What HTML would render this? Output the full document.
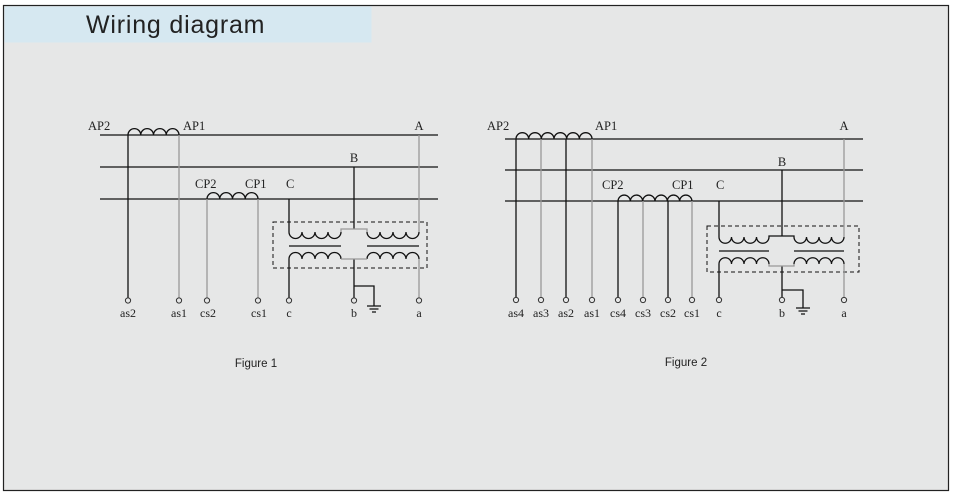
<!DOCTYPE html>
<html><head><meta charset="utf-8"><style>
html,body{margin:0;padding:0;background:#fff;}
body{width:953px;height:495px;overflow:hidden;position:relative;}
</style></head><body>
<svg width="953" height="495" viewBox="0 0 953 495" xmlns="http://www.w3.org/2000/svg" style="position:absolute;left:0;top:0">
<rect x="0" y="0" width="953" height="495" fill="#fff"/>
<rect x="3.5" y="5.5" width="945" height="485" fill="#e6e7e7" stroke="#222" stroke-width="1.2"/>
<rect x="4.5" y="6.5" width="367" height="36" fill="#d6e8f1"/>
<text x="86" y="33" font-family="Liberation Sans, sans-serif" font-size="25" fill="#222" letter-spacing="0.8">Wiring diagram</text>

<g fill="none" stroke-width="1.3">
<!-- Figure 1 -->
<g stroke="#111">
<line x1="100" y1="135" x2="438" y2="135"/>
<line x1="100" y1="167" x2="438" y2="167"/>
<line x1="100" y1="199" x2="438" y2="199"/>
<path d="M128 301V135a6.375 6.375 0 0 1 12.75 0a6.375 6.375 0 0 1 12.75 0a6.375 6.375 0 0 1 12.75 0a6.375 6.375 0 0 1 12.75 0"/>
<path d="M207 199a6.375 6.375 0 0 1 12.75 0a6.375 6.375 0 0 1 12.75 0a6.375 6.375 0 0 1 12.75 0a6.375 6.375 0 0 1 12.75 0"/>
<path d="M354 167V229"/>
<path d="M289 199V232a6.5 6.5 0 0 0 13 0a6.5 6.5 0 0 0 13 0a6.5 6.5 0 0 0 13 0a6.5 6.5 0 0 0 13 0"/>
<path d="M289 301V259a6.5 6.5 0 0 1 13 0a6.5 6.5 0 0 1 13 0a6.5 6.5 0 0 1 13 0a6.5 6.5 0 0 1 13 0"/>
<path d="M419 232a6.5 6.5 0 0 1 -13 0a6.5 6.5 0 0 1 -13 0a6.5 6.5 0 0 1 -13 0a6.5 6.5 0 0 1 -13 0"/>
<path d="M419 259a6.5 6.5 0 0 0 -13 0a6.5 6.5 0 0 0 -13 0a6.5 6.5 0 0 0 -13 0a6.5 6.5 0 0 0 -13 0"/>
<line x1="289" y1="246" x2="341" y2="246"/><line x1="367" y1="246" x2="419" y2="246"/>
<path d="M354 259V298M354 286H374V306M367 306H381M369.5 309H378.5M372 312H376"/>
<path d="M273 222H427V268H273Z" stroke-dasharray="4 3" stroke-width="1"/>
</g>
<g stroke="#999">
<path d="M179 135V298"/>
<path d="M207 199V298M258 199V298"/>
<path d="M419 135V232M367 232V229H341V232"/>
<path d="M419 298V259M367 259H341"/>
</g>
<g stroke="#333" stroke-width="1" fill="#e6e7e7">
<circle cx="128" cy="300.5" r="2.6"/><circle cx="179" cy="300.5" r="2.6"/><circle cx="207" cy="300.5" r="2.6"/><circle cx="258" cy="300.5" r="2.6"/><circle cx="289" cy="300.5" r="2.6"/><circle cx="354" cy="300.5" r="2.6"/><circle cx="419" cy="300.5" r="2.6"/>
</g>

<!-- Figure 2 -->
<g stroke="#111">
<line x1="505" y1="139" x2="863" y2="139"/>
<line x1="505" y1="170" x2="863" y2="170"/>
<line x1="505" y1="201" x2="863" y2="201"/>
<path d="M516 298V139a6.33 6.33 0 0 1 12.67 0a6.33 6.33 0 0 1 12.67 0a6.33 6.33 0 0 1 12.67 0a6.33 6.33 0 0 1 12.67 0a6.33 6.33 0 0 1 12.67 0a6.33 6.33 0 0 1 12.67 0"/>
<path d="M566 139V298"/>
<path d="M618 298V201a6.17 6.17 0 0 1 12.33 0a6.17 6.17 0 0 1 12.33 0a6.17 6.17 0 0 1 12.33 0a6.17 6.17 0 0 1 12.33 0a6.17 6.17 0 0 1 12.33 0a6.17 6.17 0 0 1 12.33 0"/>
<path d="M668 201V298"/>
<path d="M782 170V236"/>
<path d="M719 201V237a6.25 6.25 0 0 0 12.5 0a6.25 6.25 0 0 0 12.5 0a6.25 6.25 0 0 0 12.5 0a6.25 6.25 0 0 0 12.5 0V236H794V237a6.25 6.25 0 0 0 12.5 0a6.25 6.25 0 0 0 12.5 0a6.25 6.25 0 0 0 12.5 0a6.25 6.25 0 0 0 12.5 0"/>
<path d="M719 298V264a6.25 6.25 0 0 1 12.5 0a6.25 6.25 0 0 1 12.5 0a6.25 6.25 0 0 1 12.5 0a6.25 6.25 0 0 1 12.5 0"/>
<path d="M844 264a6.25 6.25 0 0 0 -12.5 0a6.25 6.25 0 0 0 -12.5 0a6.25 6.25 0 0 0 -12.5 0a6.25 6.25 0 0 0 -12.5 0"/>
<line x1="719" y1="251" x2="769" y2="251"/><line x1="794" y1="251" x2="844" y2="251"/>
<path d="M782 266V298M782 290H803V308M796 308H810M798.5 311H807.5M801 314H805"/>
<path d="M707 226H859V272H707Z" stroke-dasharray="4 3" stroke-width="1"/>
</g>
<g stroke="#999">
<path d="M541 139V298M592 139V298M643 201V298M692 201V298"/>
<path d="M844 139V237"/>
<path d="M844 298V264M794 264V266H769V264"/>
</g>
<g stroke="#333" stroke-width="1" fill="#e6e7e7">
<circle cx="516" cy="300" r="2.6"/><circle cx="541" cy="300" r="2.6"/><circle cx="566" cy="300" r="2.6"/><circle cx="592" cy="300" r="2.6"/><circle cx="618" cy="300" r="2.6"/><circle cx="643" cy="300" r="2.6"/><circle cx="668" cy="300" r="2.6"/><circle cx="692" cy="300" r="2.6"/><circle cx="719" cy="300" r="2.6"/><circle cx="782" cy="300" r="2.6"/><circle cx="844" cy="300" r="2.6"/>
</g>
</g>

<g font-family="Liberation Serif, serif" font-size="12.5" fill="#222">
<text x="88" y="130">AP2</text><text x="183" y="130">AP1</text>
<text x="419" y="130" text-anchor="middle">A</text>
<text x="354" y="162" text-anchor="middle">B</text>
<text x="195" y="188">CP2</text><text x="245" y="188">CP1</text><text x="286" y="188">C</text>
<g text-anchor="middle" font-size="12">
<text x="128" y="317">as2</text><text x="179" y="317">as1</text><text x="208" y="317">cs2</text><text x="259" y="317">cs1</text><text x="289" y="317">c</text><text x="354" y="317">b</text><text x="419" y="317">a</text>
</g>
<text x="487" y="130">AP2</text><text x="595" y="130">AP1</text>
<text x="844" y="130" text-anchor="middle">A</text>
<text x="782" y="166" text-anchor="middle">B</text>
<text x="602" y="189">CP2</text><text x="672" y="189">CP1</text><text x="716" y="189">C</text>
<g text-anchor="middle" font-size="12">
<text x="516" y="317">as4</text><text x="541" y="317">as3</text><text x="566" y="317">as2</text><text x="592" y="317">as1</text><text x="618" y="317">cs4</text><text x="643" y="317">cs3</text><text x="668" y="317">cs2</text><text x="692" y="317">cs1</text><text x="719" y="317">c</text><text x="782" y="317">b</text><text x="844" y="317">a</text>
</g>
</g>
<g font-family="Liberation Sans, sans-serif" font-size="11.5" fill="#222" text-anchor="middle">
<text x="256" y="367">Figure 1</text><text x="686" y="366">Figure 2</text>
</g>
</svg>
</body></html>
